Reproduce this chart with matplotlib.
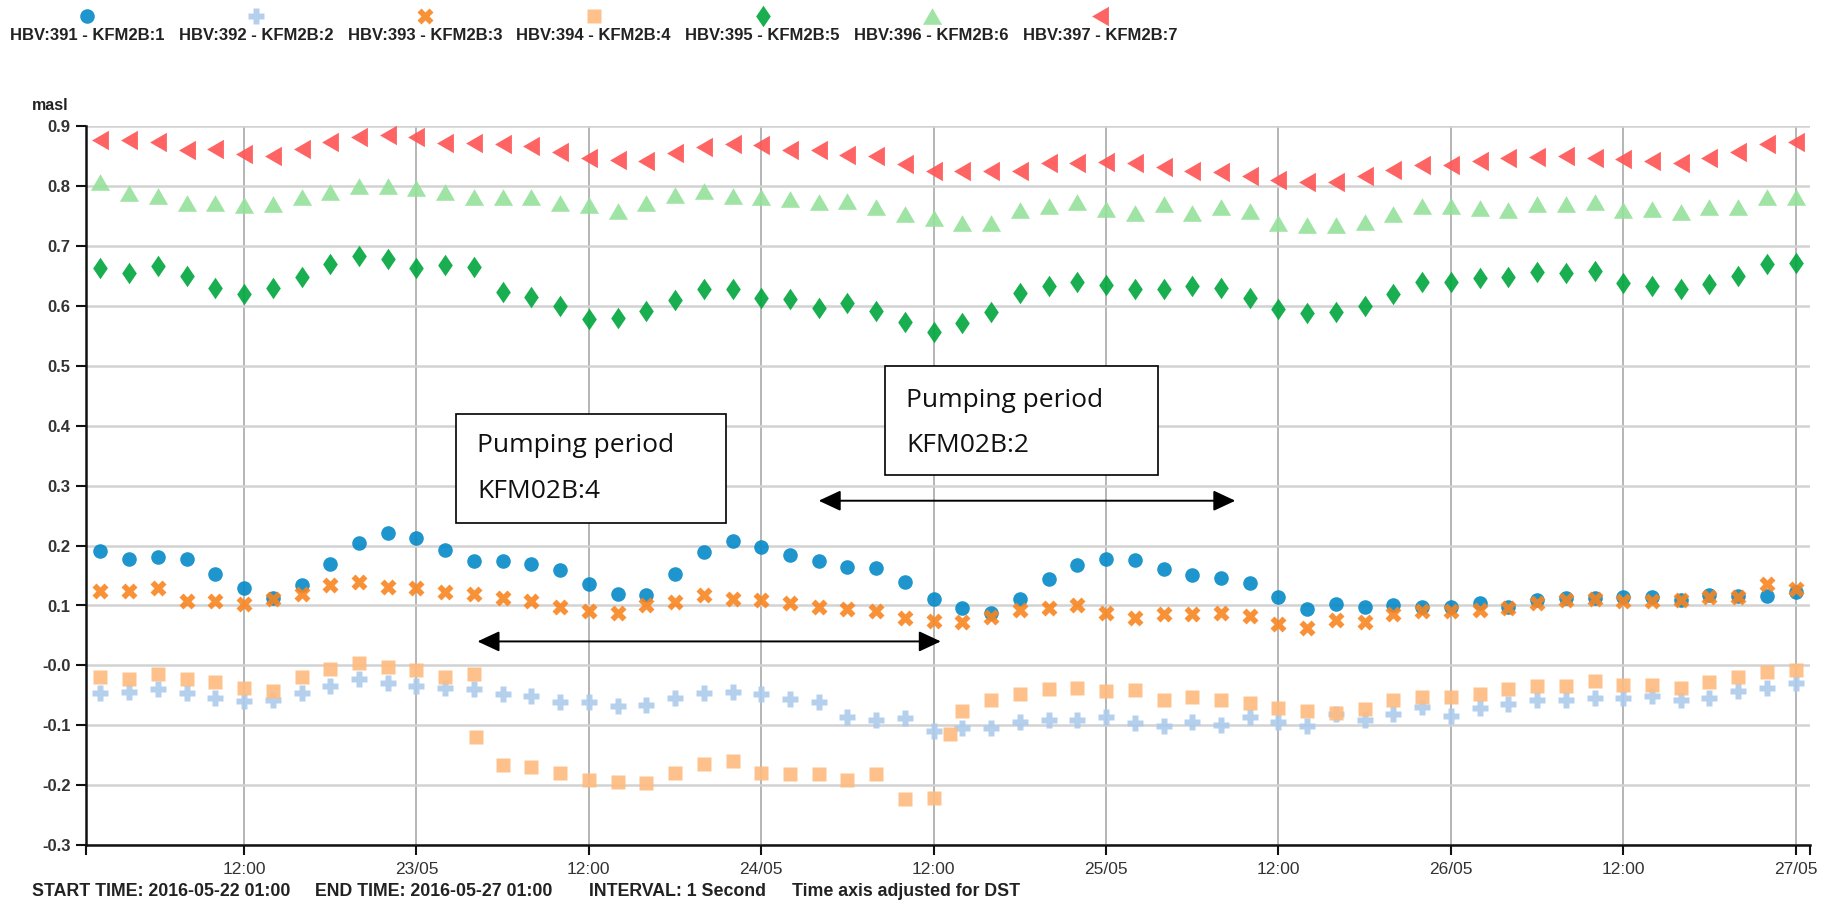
import matplotlib
matplotlib.use("Agg")
import matplotlib.pyplot as plt
import matplotlib.dates as mdates
from matplotlib.patches import Rectangle, FancyArrowPatch
from matplotlib.ticker import FuncFormatter
import pandas as pd

W, H = 1834, 905

# logger readings, one every 2 hours
times = pd.date_range("2016-05-22 02:00", "2016-05-27 00:00", freq="2h")

kfm2b_1 = [0.191, 0.178, 0.181, 0.177, 0.153, 0.129, 0.112, 0.135, 0.170, 0.204,
           0.221, 0.212, 0.192, 0.175, 0.175, 0.170, 0.160, 0.136, 0.119, 0.117,
           0.153, 0.189, 0.208, 0.197, 0.185, 0.174, 0.164, 0.162, 0.139, 0.111,
           0.095, 0.088, 0.111, 0.144, 0.167, 0.178, 0.176, 0.161, 0.151, 0.146,
           0.138, 0.114, 0.094, 0.102, 0.097, 0.100, 0.098, 0.097, 0.105, 0.098,
           0.110, 0.112, 0.112, 0.115, 0.114, 0.110, 0.118, 0.116, 0.116, 0.122]
kfm2b_2 = [-0.046, -0.044, -0.039, -0.046, -0.055, -0.059, -0.058, -0.046, -0.034, -0.023,
           -0.029, -0.034, -0.038, -0.039, -0.048, -0.051, -0.062, -0.061, -0.068, -0.066,
           -0.054, -0.046, -0.044, -0.047, -0.056, -0.062, -0.086, -0.091, -0.088, -0.109,
           -0.104, -0.105, -0.095, -0.092, -0.091, -0.087, -0.097, -0.101, -0.095, -0.099,
           -0.087, -0.094, -0.102, -0.082, -0.091, -0.082, -0.070, -0.085, -0.072, -0.065,
           -0.058, -0.057, -0.054, -0.055, -0.051, -0.057, -0.054, -0.042, -0.037, -0.030]
kfm2b_3 = [0.125, 0.125, 0.129, 0.107, 0.107, 0.102, 0.111, 0.120, 0.134, 0.139,
           0.131, 0.129, 0.122, 0.120, 0.112, 0.107, 0.097, 0.090, 0.088, 0.100,
           0.106, 0.118, 0.111, 0.110, 0.105, 0.097, 0.094, 0.090, 0.079, 0.074,
           0.072, 0.080, 0.093, 0.096, 0.101, 0.088, 0.079, 0.086, 0.086, 0.088,
           0.082, 0.069, 0.063, 0.076, 0.072, 0.086, 0.090, 0.090, 0.093, 0.096,
           0.104, 0.110, 0.111, 0.108, 0.108, 0.110, 0.115, 0.115, 0.136, 0.128]
kfm2b_4 = [-0.019, -0.023, -0.014, -0.023, -0.028, -0.038, -0.042, -0.019, -0.006, 0.004,
           -0.002, -0.008, -0.019, -0.014, -0.167, -0.169, -0.179, -0.191, -0.195, -0.196,
           -0.179, -0.164, -0.160, -0.179, -0.182, -0.182, -0.192, -0.182, -0.224, -0.222,
           -0.076, -0.058, -0.048, -0.040, -0.038, -0.043, -0.041, -0.057, -0.052, -0.058,
           -0.063, -0.072, -0.077, -0.079, -0.073, -0.057, -0.052, -0.052, -0.048, -0.040,
           -0.035, -0.035, -0.026, -0.032, -0.032, -0.037, -0.028, -0.020, -0.011, -0.008]
# KFM2B:4 also logged a reading when the pump started and stopped
kfm2b_4_extra_times = pd.to_datetime(["2016-05-23 04:10", "2016-05-24 13:10"])
kfm2b_4_extra = [-0.119, -0.114]
kfm2b_5 = [0.664, 0.656, 0.667, 0.650, 0.631, 0.621, 0.631, 0.648, 0.671, 0.683,
           0.679, 0.664, 0.668, 0.665, 0.623, 0.616, 0.600, 0.579, 0.581, 0.592,
           0.610, 0.629, 0.629, 0.614, 0.612, 0.597, 0.606, 0.592, 0.573, 0.557,
           0.572, 0.591, 0.622, 0.633, 0.640, 0.635, 0.628, 0.629, 0.633, 0.631,
           0.614, 0.596, 0.589, 0.591, 0.600, 0.621, 0.641, 0.640, 0.647, 0.648,
           0.657, 0.656, 0.659, 0.639, 0.634, 0.628, 0.637, 0.651, 0.671, 0.672]
kfm2b_6 = [0.807, 0.789, 0.784, 0.773, 0.773, 0.769, 0.771, 0.782, 0.791, 0.801,
           0.801, 0.797, 0.790, 0.782, 0.783, 0.783, 0.773, 0.769, 0.759, 0.772,
           0.785, 0.793, 0.784, 0.783, 0.779, 0.774, 0.775, 0.765, 0.754, 0.747,
           0.738, 0.738, 0.761, 0.767, 0.774, 0.763, 0.756, 0.771, 0.756, 0.765,
           0.759, 0.738, 0.736, 0.735, 0.741, 0.754, 0.767, 0.768, 0.764, 0.760,
           0.771, 0.771, 0.774, 0.760, 0.762, 0.757, 0.765, 0.765, 0.782, 0.782]
kfm2b_7 = [0.877, 0.877, 0.874, 0.861, 0.862, 0.854, 0.851, 0.862, 0.874, 0.883,
           0.886, 0.883, 0.873, 0.873, 0.870, 0.868, 0.857, 0.848, 0.844, 0.842,
           0.856, 0.865, 0.871, 0.869, 0.860, 0.861, 0.853, 0.850, 0.837, 0.825,
           0.826, 0.826, 0.825, 0.839, 0.839, 0.840, 0.839, 0.832, 0.825, 0.824,
           0.818, 0.811, 0.808, 0.807, 0.817, 0.828, 0.836, 0.836, 0.842, 0.847,
           0.849, 0.851, 0.847, 0.846, 0.843, 0.839, 0.847, 0.858, 0.871, 0.874]

series_names = ["HBV:391 - KFM2B:1", "HBV:392 - KFM2B:2", "HBV:393 - KFM2B:3",
                "HBV:394 - KFM2B:4", "HBV:395 - KFM2B:5", "HBV:396 - KFM2B:6",
                "HBV:397 - KFM2B:7"]
y_ticks = [0.9, 0.8, 0.7, 0.6, 0.5, 0.4, 0.3, 0.2, 0.1, 0.0, -0.1, -0.2, -0.3]
y_tick_labels = ["0.9", "0.8", "0.7", "0.6", "0.5", "0.4", "0.3", "0.2", "0.1",
                 "-0.0", "-0.1", "-0.2", "-0.3"]
footer = ["START TIME: 2016-05-22 01:00", "END TIME: 2016-05-27 01:00",
          "INTERVAL: 1 Second", "Time axis adjusted for DST"]

# marker shapes (d3 style symbols)
tri_up = [(0, 0.866), (-1, -0.866), (1, -0.866)]
tri_left = [(-0.866, 0), (0.866, 1), (0.866, -1)]
diamond = [(0, 1), (0.68, 0), (0, -1), (-0.68, 0)]
styles = [
    dict(marker="o", color="#058ac7", ms=10.5),
    dict(marker="P", color="#accbec", ms=12),
    dict(marker="X", color="#f98521", ms=11.5),
    dict(marker="s", color="#febb7f", ms=10),
    dict(marker=diamond, color="#00a73d", ms=15.5),
    dict(marker=tri_up, color="#95e19b", ms=13.8),
    dict(marker=tri_left, color="#ff5353", ms=14),
]
ALPHA = 0.9

plt.rcParams["font.family"] = ["Liberation Sans", "DejaVu Sans"]

fig = plt.figure(figsize=(W / 100, H / 100), dpi=100)
ax = fig.add_axes([86 / W, 1 - 845 / H, (1810 - 86) / W, (845 - 126.5) / H])

values = [kfm2b_1, kfm2b_2, kfm2b_3, kfm2b_4, kfm2b_5, kfm2b_6, kfm2b_7]
for i, (vals, st) in enumerate(zip(values, styles)):
    x = list(times)
    y = list(vals)
    if i == 3:
        x = x + list(kfm2b_4_extra_times)
        y = y + kfm2b_4_extra
    ax.plot(x, y, linestyle="none", marker=st["marker"], ms=st["ms"],
            color=st["color"], mec="none", alpha=ALPHA, zorder=3 + i * 0.1)

ax.set_xlim(pd.Timestamp("2016-05-22 01:00"), pd.Timestamp("2016-05-27 01:00"))
ax.set_ylim(-0.3, 0.9)

ax.xaxis.set_major_locator(mdates.HourLocator(byhour=[0, 12]))


def fmt_time(x, pos):
    d = mdates.num2date(x)
    return d.strftime("%d/%m") if d.hour == 0 else d.strftime("%H:%M")


ax.xaxis.set_major_formatter(FuncFormatter(fmt_time))
# end ticks of the time axis
ax.set_xticks([mdates.date2num(pd.Timestamp("2016-05-22 01:00")),
               mdates.date2num(pd.Timestamp("2016-05-27 01:00"))], minor=True)
ax.set_yticks(y_ticks)
ax.set_yticklabels(y_tick_labels)

for s in ["top", "right"]:
    ax.spines[s].set_visible(False)
for s in ["left", "bottom"]:
    ax.spines[s].set_linewidth(1.8)
    ax.spines[s].set_color("#111111")

ax.tick_params(axis="both", which="both", direction="out", length=7, width=1.5,
               color="#111111")
ax.tick_params(axis="x", labelsize=12.5, labelcolor="#333333", pad=5)
ax.tick_params(axis="y", labelsize=12, labelcolor="#333333", pad=4)
for lab in ax.get_yticklabels():
    lab.set_fontweight("bold")

ax.set_axisbelow(True)
ax.xaxis.grid(True, which="major", color="#b0b0b0", lw=1.3)
ax.yaxis.grid(True, color="#d2d2d2", lw=1.8)

# pumping period notes
ts = lambda s: mdates.date2num(pd.Timestamp(s))
box_font = dict(family=["Open Sans", "DejaVu Sans"], fontsize=19, color="#111111", zorder=7)

b1 = ts("2016-05-23 02:45")
ax.add_patch(Rectangle((b1, 0.238), ts("2016-05-23 21:34") - b1, 0.182,
                       facecolor="white", edgecolor="black", lw=1.2, zorder=6))
ax.text(ts("2016-05-23 04:15"), 0.356, "Pumping period", **box_font)
ax.text(ts("2016-05-23 04:15"), 0.280, "KFM02B:4", **box_font)

b2 = ts("2016-05-24 08:36")
ax.add_patch(Rectangle((b2, 0.318), ts("2016-05-25 03:36") - b2, 0.1815,
                       facecolor="white", edgecolor="black", lw=1.2, zorder=6))
ax.text(ts("2016-05-24 10:05"), 0.432, "Pumping period", **box_font)
ax.text(ts("2016-05-24 10:05"), 0.357, "KFM02B:2", **box_font)

for start, end, yv in [("2016-05-23 04:15", "2016-05-24 12:30", 0.04),
                       ("2016-05-24 04:00", "2016-05-25 09:00", 0.275)]:
    arr = FancyArrowPatch((ts(start), yv), (ts(end), yv),
                          arrowstyle="<|-|>,head_length=0.9,head_width=0.42",
                          mutation_scale=15, lw=1.4, color="black",
                          shrinkA=0, shrinkB=0, zorder=6)
    ax.add_patch(arr)

# overlay in pixel coordinates for legend and captions
over = fig.add_axes([0, 0, 1, 1], facecolor="none")
over.set_xlim(0, W)
over.set_ylim(H, 0)
over.axis("off")

for i, (name, st) in enumerate(zip(series_names, styles)):
    cx = 87 + i * 168.9
    over.plot([cx], [16], linestyle="none", marker=st["marker"], ms=st["ms"],
              color=st["color"], mec="none", alpha=ALPHA)
    over.text(cx, 36, name, ha="center", va="center", fontsize=12,
              fontweight="bold", color="#222222")

over.text(32, 105, "masl", ha="left", va="center", fontsize=11.5,
          fontweight="bold", color="#222222")

for x0, txt in zip([32, 315, 589, 792], footer):
    over.text(x0, 891, txt, ha="left", va="center", fontsize=12.8,
              fontweight="bold", color="#222222")

fig.savefig("out.png", dpi=100)
